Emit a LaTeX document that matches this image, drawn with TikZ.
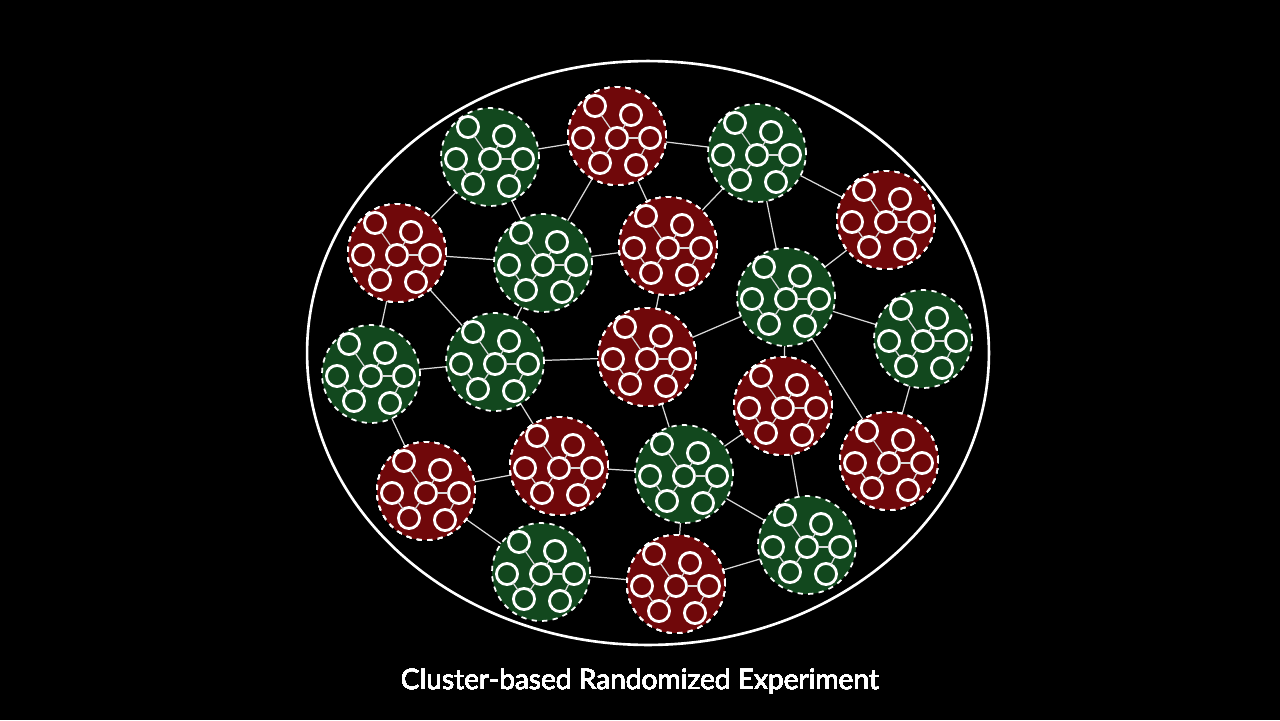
\documentclass[tikz,border=0pt]{standalone}
\usepackage{fontspec}
\setmainfont{Lato}
\usetikzlibrary{shapes.geometric}
\definecolor{clgreen}{RGB}{18,72,30}
\definecolor{clred}{RGB}{112,8,10}
\tikzset{
  cluster/.style={circle, draw=white, dashed, line width=1pt, inner sep=0pt},
  unit/.style={circle, draw=white, line width=1.6pt, minimum size=12pt, inner sep=0pt},
  link/.style={white!85!black, line width=0.7pt}
}
% one cluster: #1 name, #2 position, #3 colour
\newcommand{\cluster}[3]{%
  \node[cluster, fill=#3, minimum size=1.96cm] (#1) at #2 {};
  \begin{scope}[shift={#2}]
    \node[unit, fill=#3] (#1tl) at (-22,-30) {};
    \node[unit, fill=#3] (#1tr) at (14,-21) {};
    \node[unit, fill=#3] (#1l) at (-34,2) {};
    \node[unit, fill=#3] (#1c) at (0,2) {};
    \node[unit, fill=#3] (#1r) at (33,2) {};
    \node[unit, fill=#3] (#1bl) at (-17,27) {};
    \node[unit, fill=#3] (#1br) at (19,29) {};
    \draw[link, shorten >=6pt, shorten <=6pt] (#1tl.center) -- (#1c.center);
    \draw[link, shorten >=6pt, shorten <=6pt] (#1tr.center) -- (#1c.center);
    \draw[link, shorten >=6pt, shorten <=6pt] (#1c.center) -- (#1r.center);
    \draw[link, shorten >=6pt, shorten <=6pt] (#1c.center) -- (#1bl.center);
    \draw[link, shorten >=6pt, shorten <=6pt] (#1r.center) -- (#1br.center);
    \draw[link, shorten >=6pt, shorten <=6pt] (#1l.center) -- (#1bl.center);
  \end{scope}}
\begin{document}
\begin{tikzpicture}[x=0.02cm, y=-0.02cm]
  \fill[black] (0,0) rectangle (1280,720);
  \node[draw=white, line width=1.5pt, ellipse, minimum width=13.64cm, minimum height=11.68cm, inner sep=0pt] (world) at (648,353) {};
  % cluster centres
  \foreach \n/\x/\y in {g1/490/157, r1/617/136, g2/757/153, r2/886/220, r3/397/253,
      g3/543/263, r4/668/246, g4/786/297, g5/923/339, g6/371/374, g7/495/362,
      r5/647/357, r6/783/406, r7/889/461, r8/426/491, r9/559/466, g8/684/474,
      g9/541/572, r10/676/584, g10/807/545}
    \coordinate (\n) at (\x,\y);
  % links between clusters
  \foreach \a/\b in {g1/r1, g1/r3, g1/g3, r1/g3, r1/r4, r1/g2, g2/r2, g2/r4, g2/g4,
      r2/g4, r3/g3, r3/g6, r3/g7, g3/r4, g3/g7, r4/r5, g4/g5, g4/r5, g4/r6, g4/r7,
      g5/r7, g6/g7, g6/r8, g7/r5, g7/r9, r5/g8, r6/g8, r6/g10, r8/r9, r8/g9,
      r9/g8, g8/g10, g9/r10, r10/g10, r10/g8}
    \draw[link] (\a) -- (\b);
  % clusters
  \foreach \n/\x/\y in {g1/490/157, g2/757/153, g3/543/263, g4/786/297, g5/923/339,
      g6/371/374, g7/495/362, g8/684/474, g9/541/572, g10/807/545}
    \cluster{c\n}{(\x,\y)}{clgreen}
  \foreach \n/\x/\y in {r1/617/136, r2/886/220, r3/397/253, r4/668/246, r5/647/357,
      r6/783/406, r7/889/461, r8/426/491, r9/559/466, r10/676/584}
    \cluster{c\n}{(\x,\y)}{clred}
  \node[text=white, font=\fontsize{16}{18}\selectfont] (title) at (640,682) {Cluster-based Randomized Experiment};
\end{tikzpicture}
\end{document}
